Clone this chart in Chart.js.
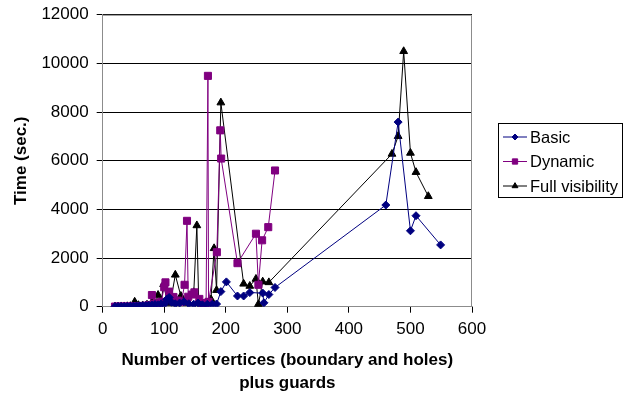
<!DOCTYPE html>
<html>
<head>
<meta charset="utf-8">
<script src="https://cdn.jsdelivr.net/npm/chart.js@4.4.1/dist/chart.umd.min.js"></script>
<style>
  body { margin: 0; background: #fff; }
  #wrap { width: 636px; height: 398px; }
</style>
</head>
<body>
<div id="wrap"><canvas id="chart" width="636" height="398"></canvas></div>
<script>
// values
let seriesNames = ['Basic', 'Dynamic', 'Full visibility'];

let basicX = [20,25,30,35,40,45,50,55,60,65,70,75,80,85,90,95,100,104,108,112,118,125,132,140,148,155,162,170,178,185,192,201,219,229,239,260,262,270,280,460,480,500,509,549];
let basicY = [5,8,10,12,15,20,25,30,35,40,45,60,70,90,80,120,100,300,380,180,120,150,200,120,100,150,80,100,100,110,620,1020,440,440,580,560,160,500,790,4180,7590,3120,3740,2540];

let dynamicX = [20,25,30,35,40,45,50,55,60,65,70,75,80,85,90,95,100,102,108,115,122,128,133,137,139,145,149,157,163,168,171,172,185.5,191,192.5,219,249,253,259,269,280];
let dynamicY = [5,5,8,8,10,10,15,20,25,30,40,60,480,120,150,200,800,1000,620,400,250,200,900,3530,410,500,590,320,150,100,9490,200,2240,7250,6090,1790,3000,900,2730,3270,5600];

let fullX = [20,25,30,35,40,45,52,58,65,72,80,85,90,95,99,104,110,118,127,133,140,148,153,156,163,170,176,181,185,192,229,239,249,253,260,270,470,480,489,500,509,529];
let fullY = [5,8,10,10,15,20,200,60,50,80,150,120,480,200,920,300,150,1310,440,200,150,590,3340,250,100,150,300,2400,680,8390,940,850,1140,100,1030,1000,6280,7010,10500,6320,5530,4540];

let xTicks = [0, 100, 200, 300, 400, 500, 600];
let yTicks = [0, 2000, 4000, 6000, 8000, 10000, 12000];

function toPoints(xs, ys) {
  return xs.map((x, i) => ({ x: x, y: ys[i] }));
}

let fontFamily = '"Liberation Sans", Arial, sans-serif';

let seriesStyles = [
  { color: '#000080', pointStyle: 'rectRot', radius: 4 },
  { color: '#800080', pointStyle: 'rect', radius: 5 },
  { color: '#000000', pointStyle: 'triangle', radius: 4.5 }
];

let seriesData = [toPoints(basicX, basicY), toPoints(dynamicX, dynamicY), toPoints(fullX, fullY)];

let datasets = seriesNames.map((name, i) => ({
  label: name,
  data: seriesData[i],
  showLine: true,
  tension: 0,
  borderColor: seriesStyles[i].color,
  backgroundColor: seriesStyles[i].color,
  borderWidth: 1,
  pointStyle: seriesStyles[i].pointStyle,
  pointRadius: seriesStyles[i].radius,
  pointBorderWidth: 1,
  pointHoverRadius: seriesStyles[i].radius
}));

// grey frame round the plot area
let frame = {
  id: 'frame',
  afterDraw(chart) {
    let a = chart.chartArea;
    let ctx = chart.ctx;
    ctx.save();
    ctx.strokeStyle = '#8c8c8c';
    ctx.lineWidth = 1;
    ctx.beginPath();
    ctx.moveTo(a.left, a.top + 0.5);
    ctx.lineTo(a.right - 0.5, a.top + 0.5);
    ctx.lineTo(a.right - 0.5, a.bottom);
    ctx.stroke();
    ctx.restore();
  }
};

// Excel style legend: line with marker, boxed
let boxLegend = {
  id: 'boxLegend',
  afterDraw(chart) {
    let ctx = chart.ctx;
    let left = 498, top = 123, width = 124, height = 74;
    ctx.save();
    ctx.strokeStyle = '#000';
    ctx.lineWidth = 1;
    ctx.strokeRect(left + 0.5, top + 0.5, width, height);
    ctx.font = '16.5px ' + fontFamily;
    ctx.textBaseline = 'middle';
    ctx.fillStyle = '#000';
    chart.data.datasets.forEach((ds, i) => {
      let y = top + 14 + i * 24.5;
      ctx.strokeStyle = ds.borderColor;
      ctx.beginPath();
      ctx.moveTo(left + 5, y);
      ctx.lineTo(left + 29, y);
      ctx.stroke();
      ctx.fillStyle = ds.backgroundColor;
      Chart.helpers.drawPoint(ctx, {
        pointStyle: ds.pointStyle,
        radius: ds.pointRadius * 0.75,
        borderWidth: 1,
        rotation: 0
      }, left + 17, y);
      ctx.fillStyle = '#000';
      ctx.fillText(ds.label, left + 32, y + 1);
    });
    ctx.restore();
  }
};

new Chart(document.getElementById('chart'), {
  type: 'scatter',
  data: { datasets: datasets },
  plugins: [frame, boxLegend],
  options: {
    responsive: false,
    animation: false,
    layout: { padding: { top: 2, right: 164, left: 11, bottom: 3 } },
    plugins: {
      legend: { display: false },
      tooltip: { enabled: false }
    },
    scales: {
      x: {
        type: 'linear',
        min: 0,
        max: 600,
        afterBuildTicks(axis) { axis.ticks = xTicks.map(v => ({ value: v })); },
        grid: { drawOnChartArea: false, drawTicks: true, tickLength: 6, color: '#000' },
        border: { color: '#8c8c8c' },
        ticks: {
          color: '#000', font: { size: 17, family: fontFamily }, padding: 6, maxRotation: 0,
          callback: v => String(v)
        },
        title: {
          display: true,
          text: ['Number of vertices (boundary and holes)', 'plus guards'],
          color: '#000',
          font: { size: 17, weight: 'bold', family: fontFamily, lineHeight: 1.35 },
          padding: { top: 4, bottom: 0 }
        }
      },
      y: {
        type: 'linear',
        min: 0,
        max: 12000,
        afterBuildTicks(axis) { axis.ticks = yTicks.map(v => ({ value: v })); },
        grid: { color: '#000', lineWidth: 1, drawTicks: true, tickLength: 6 },
        border: { color: '#8c8c8c' },
        ticks: {
          color: '#000', font: { size: 17, family: fontFamily, lineHeight: 0.8 }, padding: 8,
          callback: v => String(v)
        },
        title: {
          display: true,
          text: 'Time (sec.)',
          color: '#000',
          font: { size: 17, weight: 'bold', family: fontFamily },
          padding: { top: 0, bottom: 2 }
        }
      }
    }
  }
});
</script>
</body>
</html>
